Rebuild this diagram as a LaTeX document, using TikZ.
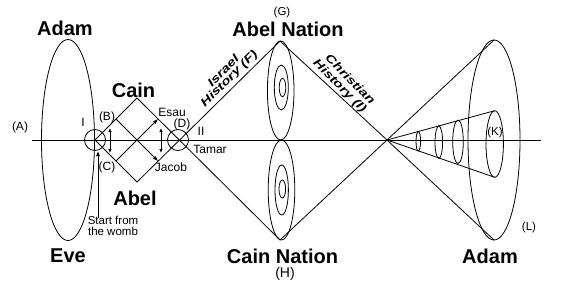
\documentclass[tikz,border=0pt]{standalone}
\usepackage{fontspec}
\setmainfont{Liberation Sans}
\usetikzlibrary{arrows.meta}
\begin{document}
\begin{tikzpicture}[x=1pt,y=-1pt,
  ln/.style={line width=0.8pt},
  big/.style={font=\fontsize{20}{22}\selectfont\bfseries, inner sep=0pt, anchor=base},
  lab/.style={font=\fontsize{12}{13}\selectfont, inner sep=0pt},
  slab/.style={font=\fontsize{11.5}{12}\selectfont, inner sep=0pt},
  rot/.style={font=\fontsize{11.5}{11}\selectfont\bfseries\itshape, inner sep=0pt},
  tip/.style={-{Latex[length=5pt,width=4pt]}},
  dtip/.style={{Latex[length=4pt,width=3.5pt]}-{Latex[length=4pt,width=3.5pt]}},
  ring/.style={circle, draw, line width=0.8pt, minimum size=21pt, inner sep=0pt}
]
\useasboundingbox[fill=white] (0,0) rectangle (569,289);
% key points
\coordinate (A0) at (32,140);
\coordinate (A1) at (541,140);
\coordinate (I) at (95,140);
\coordinate (T) at (137,98);
\coordinate (Bt) at (137,182);
\coordinate (D) at (179,140);
\coordinate (G) at (280,41);
\coordinate (H) at (280,240);
\coordinate (V) at (387,140);
\coordinate (RT) at (494,40);
\coordinate (RB) at (494,240);
\coordinate (KT) at (494.7,110.7);
\coordinate (KB) at (494.7,177.3);
\coordinate (m1) at (116,119);
\coordinate (m2) at (116,161);
\coordinate (m3) at (158,119);
\coordinate (m4) at (158,161);
\coordinate (v1a) at (110,128);
\coordinate (v1b) at (110,153);
\coordinate (v2a) at (161,128);
\coordinate (v2b) at (161,153);
\coordinate (w0) at (98,218);
\coordinate (w1) at (98,151);
% big ellipses
\draw[ln] (68,140) ellipse [x radius=26.5pt, y radius=100.5pt];
\draw[ln] (494,140) ellipse [x radius=26pt, y radius=100pt];
% nations
\draw[ln] (280.7,90.5) ellipse [x radius=13.3pt, y radius=49.5pt];
\draw[ln] (281.3,87.5) ellipse [x radius=7pt, y radius=22.5pt];
\draw[ln] (282.5,87.5) ellipse [x radius=3.3pt, y radius=9.2pt];
\draw[ln] (281.5,190) ellipse [x radius=13.3pt, y radius=50pt];
\draw[ln] (281.7,190) ellipse [x radius=6.7pt, y radius=25pt];
\draw[ln] (282.3,189) ellipse [x radius=3.3pt, y radius=9pt];
% cone
\draw[ln] (418.3,141.3) ellipse [x radius=2.3pt, y radius=9.7pt];
\draw[ln] (438.8,142.2) ellipse [x radius=3.8pt, y radius=16.2pt];
\draw[ln] (458,141.8) ellipse [x radius=5.3pt, y radius=21.7pt];
\draw[ln] (494.7,144) ellipse [x radius=8.7pt, y radius=33.3pt];
% lines
\draw[ln] (A0) -- (A1);
\draw[ln] (I) -- (T) -- (H);
\draw[ln] (I) -- (Bt) -- (G);
\draw[ln] (G) -- (V) -- (H);
\draw[ln] (RT) -- (V) -- (RB);
\draw[ln] (KT) -- (V) -- (KB);
\draw[ln,tip] (m1) -- (m4);
\draw[ln,tip] (m2) -- (m3);
\draw[ln,dtip] (v1a) -- (v1b);
\draw[ln,dtip] (v2a) -- (v2b);
\draw[ln,tip] (w0) -- (w1);
% rings
\node[ring] (cI) at (95,140) {};
\node[ring] (cD) at (178,140) {};
% big labels
\node[big] (adam1) at (65,35) {Adam};
\node[big] (eve) at (68,262) {Eve};
\node[big] (cain) at (133.5,97) {Cain};
\node[big] (abel) at (135,205) {Abel};
\node[big] (abelN) at (288,36) {Abel Nation};
\node[big] (cainN) at (282.5,263) {Cain Nation};
\node[big] (adam2) at (490,263) {Adam};
% small labels
\node[lab] (la) at (20,127) {(A)};
\node[lab] (li) at (83,122.5) {I};
\node[lab] (lb) at (107,117.5) {(B)};
\node[lab] (lc) at (107,167) {(C)};
\node[lab] (ld) at (182,124.5) {(D)};
\node[lab] (esau) at (172,112) {Esau};
\node[lab] (jacob) at (171,167.5) {Jacob};
\node[lab] (lii) at (201,131) {II};
\node[lab] (tamar) at (210,149) {Tamar};
\node[slab] (lk) at (495,132.5) {(K)};
\node[slab] (ll) at (529,228) {(L)};
\node[slab] (lg) at (282,13) {(G)};
\node[lab, font=\fontsize{14}{15}\selectfont] (lh) at (285,274) {(H)};
\node[lab, align=center, font=\fontsize{11.5}{10.5}\selectfont] (womb) at (113,226) {Start from\\the womb};
% rotated
\node[rot, rotate=45] (israel) at (223,70.5) {\scalebox{1.3}[1]{Israel}};
\node[rot, rotate=45] (histF) at (229.5,79) {\scalebox{1.3}[1]{History (F)}};
\node[rot, rotate=-45] (christ) at (350.5,79) {\scalebox{1.3}[1]{Christian}};
\node[rot, rotate=-45] (histI) at (339.5,86.5) {\scalebox{1.3}[1]{History (I)}};
\end{tikzpicture}
\end{document}
